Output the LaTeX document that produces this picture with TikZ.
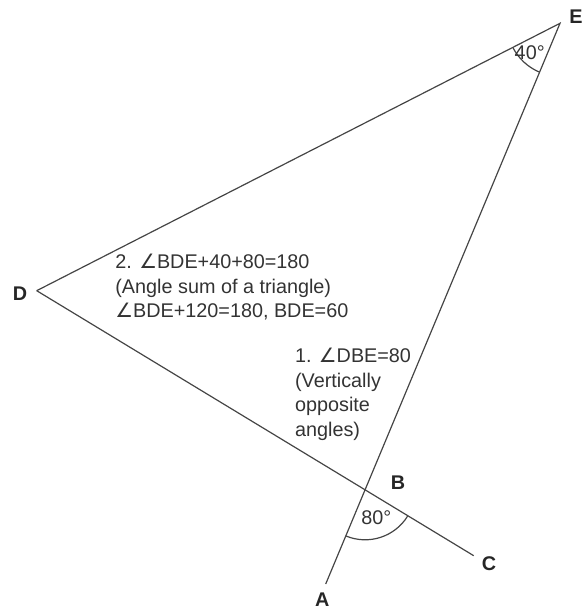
\documentclass[tikz,border=0pt]{standalone}
\usepackage{fontspec}
\setmainfont{Liberation Sans}
\newfontfamily\symfont{DejaVu Sans}
\usetikzlibrary{calc}
\definecolor{lineGray}{HTML}{454545}
\definecolor{textGray}{HTML}{333333}
\newcommand{\angsym}{{\symfont\char"2220}}

\begin{document}
\begin{tikzpicture}[x=0.5pt, y=0.5pt,
    edge/.style={draw=lineGray, line width=0.6pt},
    vlabel/.style={font=\fontsize{9.9}{12}\selectfont\bfseries, text=black!85, inner sep=0pt},
    deg/.style={font=\fontsize{9.9}{12}\selectfont, text=textGray, inner sep=0pt},
    note/.style={font=\fontsize{9.9}{12.25}\selectfont, text=textGray, align=left, anchor=north west, inner sep=0pt}]
  \useasboundingbox (0,0) rectangle (583,608);

  % Vertices
  \coordinate (E) at (560,584.7);
  \coordinate (D) at (36.7,317.3);
  \coordinate (A) at (325.7,24);
  \coordinate (C) at (473.7,52.3);
  \coordinate (B) at (intersection of D--C and E--A);

  % Lines
  \draw[edge] (D) -- (E) -- (A);
  \draw[edge] (D) -- (C);

  % Angle arcs
  \draw[edge] ($(E)+(207.1:26.5pt)$) arc[start angle=207.1, end angle=247.4, radius=26.5pt];
  \draw[edge] ($(B)+(247.5:25pt)$) arc[start angle=247.5, end angle=328.8, radius=25pt];

  % Point labels
  \node[vlabel] (labE) at (576,591.3) {E};
  \node[vlabel] (labD) at (20,314) {D};
  \node[vlabel] (labA) at (322.3,8.5) {A};
  \node[vlabel] (labB) at (398,125) {B};
  \node[vlabel] (labC) at (489,44) {C};

  % Angle values
  \node[deg] (angE) at (529.7,555.3) {40°};
  \node[deg] (angB) at (376.3,90) {80°};

  % Reasoning
  \node[note] (step1) at (294.7,260) {1. \angsym DBE=80\\(Vertically\\opposite\\angles)};
  \node[note] (step2) at (115,354) {2. \angsym BDE+40+80=180\\(Angle sum of a triangle)\\\angsym BDE+120=180, BDE=60};
\end{tikzpicture}
\end{document}
